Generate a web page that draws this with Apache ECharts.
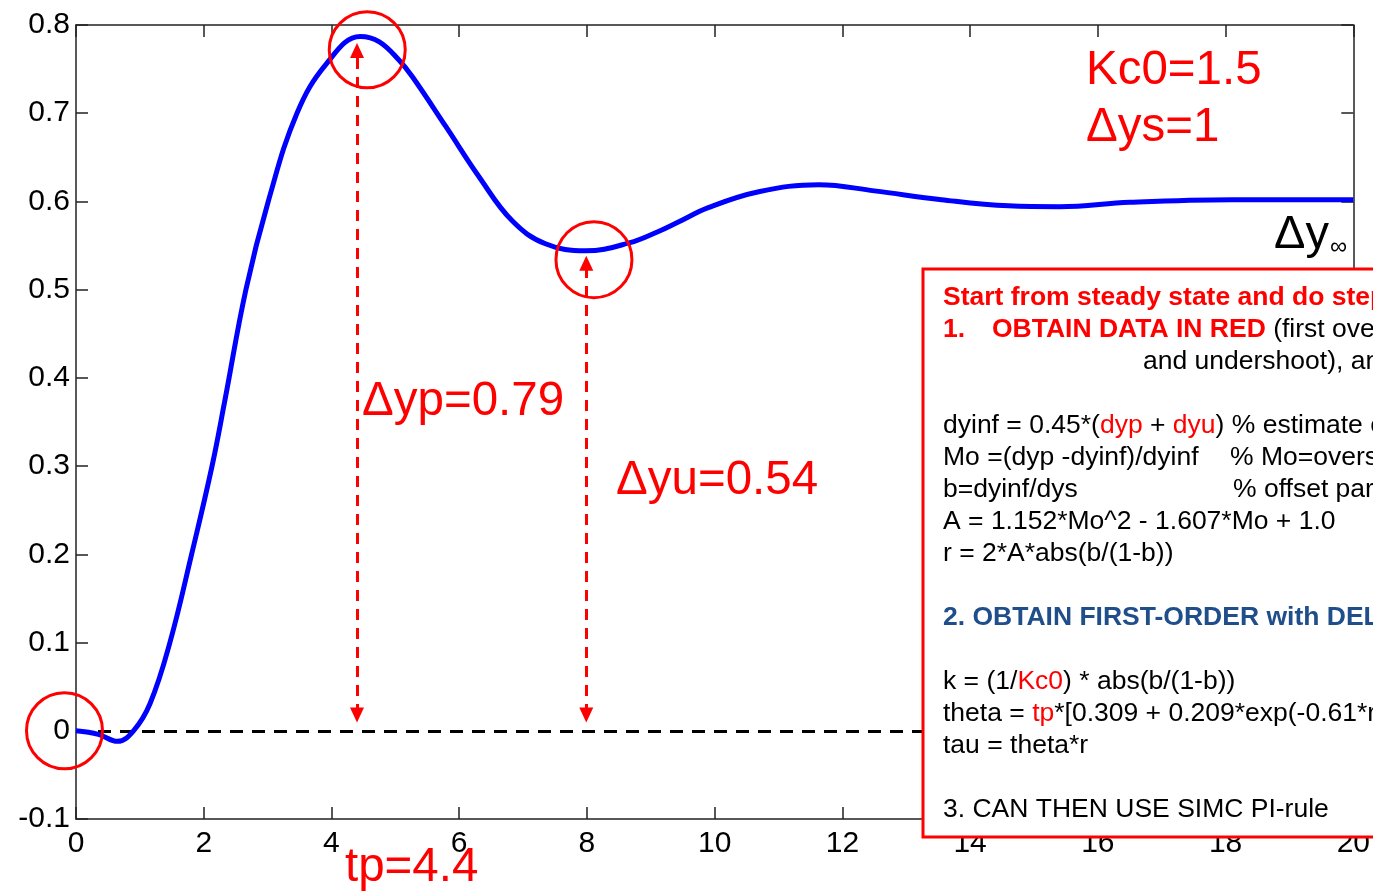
<!DOCTYPE html>
<html><head><meta charset="utf-8">
<script src="https://cdn.jsdelivr.net/npm/echarts@6.0.0/dist/echarts.min.js"></script>
<style>html,body{margin:0;padding:0;background:#fff;overflow:hidden}#c{width:1373px;height:894px}</style>
</head><body><div id="c"></div>
<script>
// ---- data ----
const timeX = [0, 0.35, 0.65, 0.9, 1.16, 1.47, 1.81, 2.13, 2.33, 2.66, 3.01, 3.46, 3.92, 4.45, 4.75, 5.06, 5.27, 5.79, 6.31, 6.83, 7.35, 7.98, 8.66, 9.12, 9.44, 9.9, 10.69, 11.63, 12.5, 13.55, 14.6, 15.4, 16.5, 18.1, 20];
const responseY = [0, -0.004, -0.012, 0, 0.031, 0.1, 0.2, 0.3, 0.374, 0.5, 0.6, 0.7, 0.756, 0.787, 0.781, 0.76, 0.741, 0.685, 0.628, 0.578, 0.552, 0.544, 0.553, 0.566, 0.577, 0.593, 0.611, 0.619, 0.612, 0.602, 0.595, 0.594, 0.599, 0.602, 0.602];
const xRange = [0, 20, 2];
const yRange = [-0.1, 0.8, 0.1];
// annotation anchors (data units)
const circleCenters = [[-0.18, 0], [4.56, 0.772], [8.11, 0.534]];
const dashedArrows = [[4.4, 0.018, 0.771], [7.99, 0.018, 0.53]]; // x, bottom, top
const tpArrow = [4.4, -0.008, -0.103];
const baseline = [0, 20, 0];

const FF = "'Liberation Sans', Arial, Helvetica, sans-serif";
const RED = '#ff0000';
const chart = echarts.init(document.getElementById('c'), null, {renderer: 'canvas'});

const axisLineStyle = {color: '#222', width: 1.5};
function fmtY(v) { return Math.abs(v) < 1e-9 ? '0' : v.toFixed(1); }

const markData = [];
markData.push([
  {coord: [baseline[0], baseline[2]], symbol: 'none', lineStyle: {color: '#000', type: [13, 9], width: 3}},
  {coord: [baseline[1], baseline[2]], symbol: 'none'}
]);
dashedArrows.forEach(a => {
  markData.push([
    {coord: [a[0], a[1]], symbol: 'triangle', symbolSize: [14, 15], lineStyle: {color: RED, type: [11, 8], width: 3}},
    {coord: [a[0], a[2]], symbol: 'triangle', symbolSize: [14, 15]}
  ]);
});
markData.push([
  {coord: [tpArrow[0], tpArrow[1]], symbol: 'none', lineStyle: {color: RED, type: 'solid', width: 2.5}},
  {coord: [tpArrow[0], tpArrow[2]], symbol: 'arrow', symbolSize: [14, 16]}
]);

function t(x, y, text, size, color, extra) {
  return Object.assign({type: 'text', x: x, y: y, z: 120,
    style: Object.assign({text: text, fontSize: size, fontFamily: FF, fill: color, verticalAlign: 'middle', align: 'left'}, extra || {})});
}
const BF = 26.5;
const rich = {
  r: {fill: RED, fontSize: BF, fontFamily: FF},
  rb: {fill: RED, fontSize: BF, fontFamily: FF, fontWeight: 'bold'},
  bb: {fill: '#1F4E8A', fontSize: BF, fontFamily: FF, fontWeight: 'bold'}
};
const boxLines = [
  [943, 298, '{rb|Start from steady state and do step test}'],
  [943, 330, '{rb|1.}'],
  [992, 330, '{rb|OBTAIN DATA IN RED} (first overshoot, time to reach it,'],
  [1143, 362, 'and undershoot), and steady state'],
  [943, 426, 'dyinf = 0.45*({r|dyp} + {r|dyu}) % estimate of Δy∞'],
  [943, 458, 'Mo =(dyp -dyinf)/dyinf'],
  [1230, 458, '% Mo=overshoot'],
  [943, 490, 'b=dyinf/dys'],
  [1233, 490, '% offset parameter'],
  [943, 522, 'A = 1.152*Mo^2 - 1.607*Mo + 1.0'],
  [943, 554, 'r = 2*A*abs(b/(1-b))'],
  [943, 618, '{bb|2. OBTAIN FIRST-ORDER with DELAY MODEL}'],
  [943, 682, 'k = (1/{r|Kc0}) * abs(b/(1-b))'],
  [943, 714, 'theta = {r|tp}*[0.309 + 0.209*exp(-0.61*r)]'],
  [943, 746, 'tau = theta*r'],
  [943, 810, '3. CAN THEN USE SIMC PI-rule']
];
const graphics = [
  {type: 'rect', z: 100, shape: {x: 923, y: 269, width: 480, height: 568}, style: {fill: '#fff', stroke: RED, lineWidth: 3}},
  t(362, 402, 'Δyp=0.79', 47.5, RED),
  t(616, 481, 'Δyu=0.54', 47.5, RED),
  t(345, 868, 'tp=4.4', 47.5, RED),
  t(1086, 71, 'Kc0=1.5', 47.5, RED),
  t(1086, 128, 'Δys=1', 47.5, RED),
  t(1274, 235, 'Δy', 47, '#000'),
  t(1330, 247, '∞', 24, '#000')
];
boxLines.forEach(l => graphics.push(t(l[0], l[1], l[2], BF, '#000', {rich: rich})));

chart.setOption({
  animation: false,
  backgroundColor: '#fff',
  grid: {left: 76, top: 25, right: 19, bottom: 75, containLabel: false},
  xAxis: [
    {type: 'value', min: xRange[0], max: xRange[1], interval: xRange[2], position: 'bottom',
      axisLine: {show: true, onZero: false, lineStyle: axisLineStyle},
      axisTick: {show: true, inside: true, length: 12, lineStyle: axisLineStyle},
      axisLabel: {fontSize: 30, color: '#000', margin: 10, fontFamily: FF},
      splitLine: {show: false}},
    {type: 'value', min: xRange[0], max: xRange[1], interval: xRange[2], position: 'top',
      axisLine: {show: true, onZero: false, lineStyle: axisLineStyle},
      axisTick: {show: true, inside: true, length: 12, lineStyle: axisLineStyle},
      axisLabel: {show: false}, splitLine: {show: false}}
  ],
  yAxis: [
    {type: 'value', min: yRange[0], max: yRange[1], interval: yRange[2], position: 'left',
      axisLine: {show: true, onZero: false, lineStyle: axisLineStyle},
      axisTick: {show: true, inside: true, length: 12, lineStyle: axisLineStyle},
      axisLabel: {fontSize: 30, color: '#000', margin: 6, fontFamily: FF, formatter: fmtY},
      splitLine: {show: false}},
    {type: 'value', min: yRange[0], max: yRange[1], interval: yRange[2], position: 'right',
      axisLine: {show: true, onZero: false, lineStyle: axisLineStyle},
      axisTick: {show: true, inside: true, length: 12, lineStyle: axisLineStyle},
      axisLabel: {show: false}, splitLine: {show: false}}
  ],
  series: [
    {type: 'line', name: 'response', data: timeX.map((x, i) => [x, responseY[i]]),
      smooth: 0.4, showSymbol: false, symbol: 'none', z: 5,
      lineStyle: {color: '#0000ff', width: 5}},
    {type: 'line', name: 'annot', data: [], z: 6,
      markLine: {silent: true, animation: false, label: {show: false}, symbol: 'none',
        itemStyle: {color: RED}, data: markData}},
    {type: 'scatter', name: 'circles', data: circleCenters, clip: false, z: 7,
      symbol: 'circle', symbolSize: 76,
      itemStyle: {color: 'rgba(0,0,0,0)', borderColor: RED, borderWidth: 3, opacity: 1}}
  ],
  graphic: graphics
});
</script></body></html>
